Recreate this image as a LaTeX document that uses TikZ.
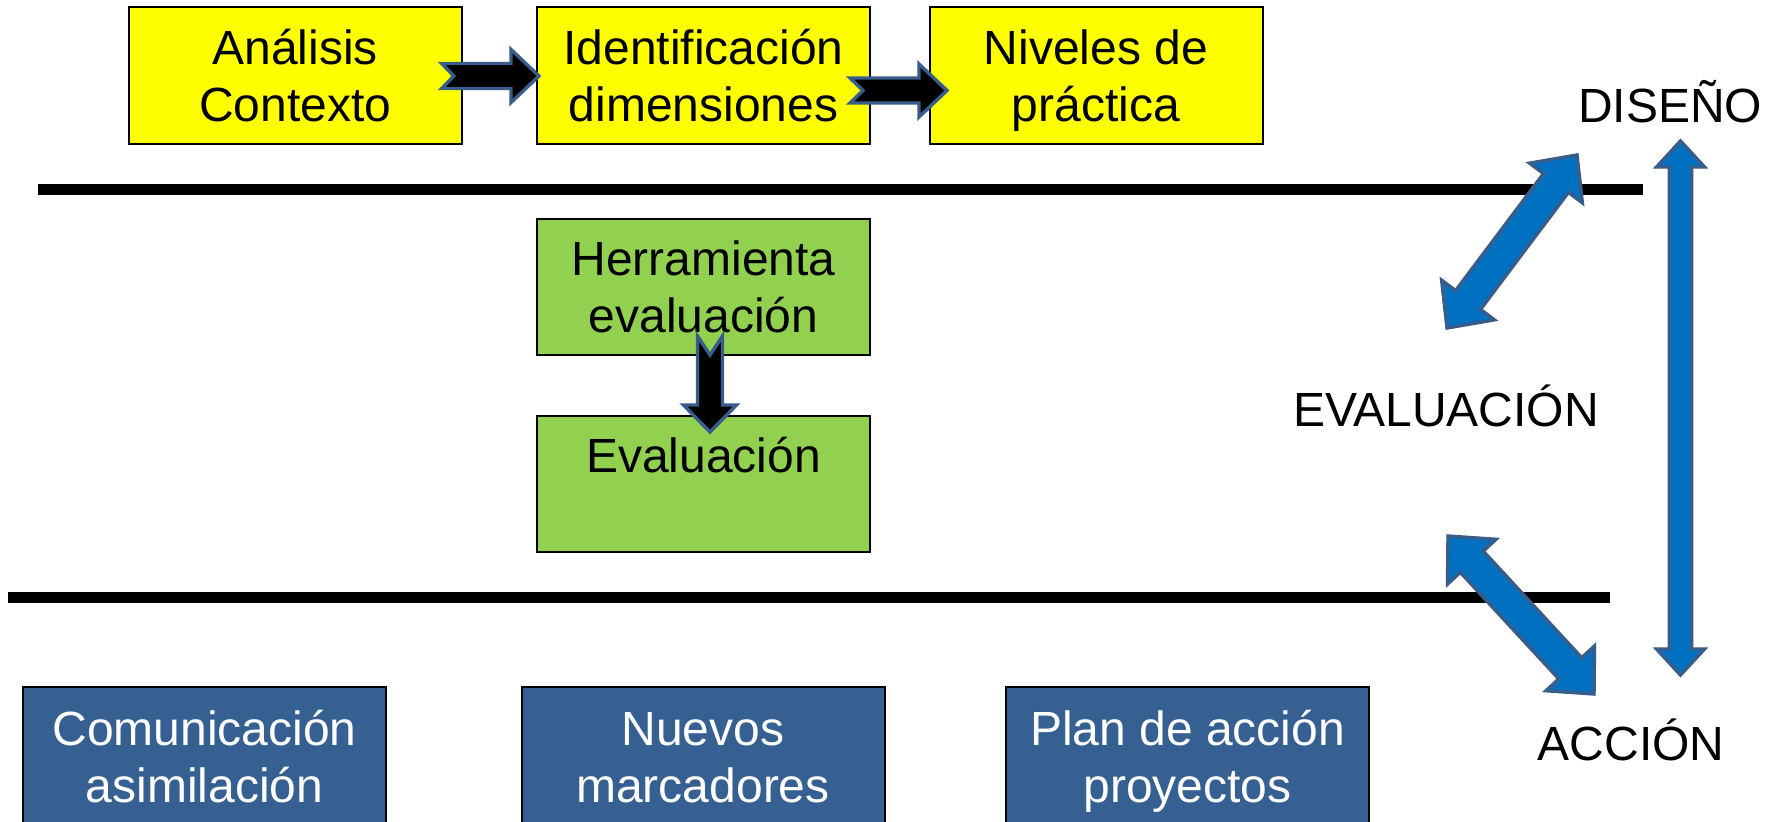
\documentclass[tikz,border=0pt]{standalone}
\usepackage{fontspec}
\setmainfont{Liberation Sans}
\usetikzlibrary{calc}

\definecolor{ylw}{HTML}{FFFF00}
\definecolor{grn}{HTML}{92D050}
\definecolor{dkb}{HTML}{376092}
\definecolor{arrf}{HTML}{0070C0}
\definecolor{arro}{HTML}{385D8A}

\newcommand\twoln[2]{\vtop{\baselineskip=28.5pt\halign{\hfil##\hfil\cr#1\cr#2\cr}}}

% notched block arrow: tail, tip, notch, head length, shaft half, head half
\newcommand\notcharrow[6]{%
  \coordinate (nH) at ($(#2)!#4!(#1)$);
  \filldraw[blkarrow] ($(#1)!#5!90:(#2)$) -- ($(nH)!#5!90:(#2)$) -- ($(nH)!#6!90:(#2)$) -- (#2)
    -- ($(nH)!#6!-90:(#2)$) -- ($(nH)!#5!-90:(#2)$) -- ($(#1)!#5!-90:(#2)$) -- ($(#1)!#3!(#2)$) -- cycle;
}
% double block arrow: tip A, tip B, head length, shaft half, head half
\newcommand\dblarrow[5]{%
  \coordinate (dHA) at ($(#1)!#3!(#2)$);
  \coordinate (dHB) at ($(#2)!#3!(#1)$);
  \filldraw[bluearrow] (#1) -- ($(dHA)!#5!90:(#2)$) -- ($(dHA)!#4!90:(#2)$) -- ($(dHB)!#4!-90:(#1)$)
    -- ($(dHB)!#5!-90:(#1)$) -- (#2) -- ($(dHB)!#5!90:(#1)$) -- ($(dHB)!#4!90:(#1)$)
    -- ($(dHA)!#4!-90:(#2)$) -- ($(dHA)!#5!-90:(#2)$) -- cycle;
}

\tikzset{
  txt/.style={font=\fontsize{24pt}{28.5pt}\selectfont},
  boxbase/.style={txt, draw=black, line width=1pt, inner sep=0pt,
    text height=17.2pt, text depth=28.5pt},
  ybox/.style={boxbase, fill=ylw, minimum width=166.5pt, minimum height=68.5pt},
  gbox/.style={boxbase, fill=grn, minimum width=166.5pt, minimum height=68pt},
  bbox/.style={boxbase, fill=dkb, text=white, minimum width=181.5pt, minimum height=70pt},
  lbl/.style={txt, inner sep=0pt, anchor=base},
  sepline/.style={line width=5.5pt, black},
  blkarrow/.style={fill=black, draw=arro, line width=1.7pt},
  bluearrow/.style={fill=arrf, draw=arro, line width=1.7pt},
}

\begin{document}
\begin{tikzpicture}[x=0.5pt, y=-0.5pt]
\useasboundingbox (0,0) rectangle (1777,821);
\fill[white] (0,0) rectangle (1777,821);

% separator lines
\coordinate (l1a) at (38,189);
\coordinate (l1b) at (1643,189);
\coordinate (l2a) at (8,597);
\coordinate (l2b) at (1610,597);
\draw[sepline] (l1a) -- (l1b);
\draw[sepline] (l2a) -- (l2b);

% yellow boxes
\node[ybox] (a1) at (295.25,75.5) {\twoln{Análisis}{Contexto}};
\node[ybox] (a2) at (703.5,75.5) {\twoln{Identificación}{dimensiones}};
\node[ybox] (a3) at (1096,75.5) {\twoln{Niveles de}{práctica}};

% green boxes
\node[gbox] (h1) at (703.5,287) {\twoln{Herramienta}{evaluación}};
\node[gbox] (h2) at (703.5,484) {\twoln{Evaluación}{}};

% blue boxes
\node[bbox] (c1) at (204.5,757) {\twoln{Comunicación}{asimilación}};
\node[bbox] (c2) at (703,757) {\twoln{Nuevos}{marcadores}};
\node[bbox] (c3) at (1187.5,757) {\twoln{Plan de acción}{proyectos}};

% labels
\node[lbl] (ldis) at (1670,122) {DISEÑO};
\node[lbl] (leva) at (1446,426) {EVALUACIÓN};
\node[lbl] (lacc) at (1631,760) {ACCIÓN};

% black notched arrows
\coordinate (t1) at ($(a1.east)+(-21,0.5)$);
\coordinate (p1) at ($(a2.west)+(3,0.5)$);
\notcharrow{t1}{p1}{6pt}{14pt}{6.25pt}{13.25pt}
\coordinate (t2) at ($(a2.east)+(-21,15)$);
\coordinate (p2) at ($(a3.west)+(18.5,15)$);
\notcharrow{t2}{p2}{6.5pt}{14pt}{6.25pt}{13.25pt}
\coordinate (t3) at ($(h1.south)+(6.5,-20)$);
\coordinate (p3) at ($(h2.north)+(6.5,17)$);
\notcharrow{t3}{p3}{9.5pt}{13.5pt}{6.25pt}{13.25pt}

% blue double arrows
\coordinate (d1a) at (1447,328);
\coordinate (d1b) at (1577,155);
\dblarrow{d1a}{d1b}{17.5pt}{7.8pt}{16.5pt}
\coordinate (d2a) at (1448,536);
\coordinate (d2b) at (1594,694);
\dblarrow{d2a}{d2b}{17.5pt}{7.8pt}{16.5pt}
\coordinate (d3a) at (1680.5,141);
\coordinate (d3b) at (1680.5,675);
\dblarrow{d3a}{d3b}{13pt}{5.6pt}{12pt}
\end{tikzpicture}
\end{document}
